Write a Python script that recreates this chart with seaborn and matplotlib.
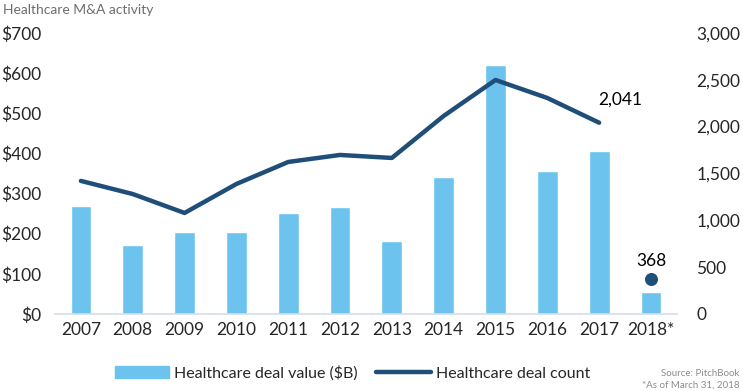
import numpy as np
import pandas as pd
import seaborn as sns
import matplotlib.pyplot as plt
from matplotlib.patches import Patch
from matplotlib.lines import Line2D

years = ["2007", "2008", "2009", "2010", "2011", "2012", "2013", "2014", "2015", "2016", "2017", "2018*"]
deal_value = [270, 172, 205, 205, 252, 267, 182, 340, 620, 357, 405, 55]
deal_count = [1420, 1280, 1078, 1387, 1622, 1697, 1665, 2113, 2497, 2305, 2041]
count_2018 = 368

bar_color = "#6CC4EE"
line_color = "#1F4E79"

sns.set_theme(style="white")
plt.rcParams['font.family'] = ['Lato', 'DejaVu Sans']

fig = plt.figure(figsize=(7.43, 3.91), dpi=100)
ax = fig.add_axes([0.074, 0.197, 0.837, 0.719])

df = pd.DataFrame({"year": years, "value": deal_value})
sns.barplot(data=df, x="year", y="value", color=bar_color, width=0.4,
            saturation=1, ax=ax)
ax.set_ylim(0, 700)
ax.set_xlim(-0.5, 11.5)
ax.set_yticks(range(0, 701, 100))
ax.set_yticklabels([f"${v}" for v in range(0, 701, 100)], fontsize=12.5)
ax.set_xlabel("")
ax.set_ylabel("")
ax.tick_params(axis="x", labelsize=12.5, pad=6, length=0)
ax.tick_params(axis="y", length=0, pad=10)
for s in ["top", "right", "left"]:
    ax.spines[s].set_visible(False)
ax.spines["bottom"].set_color("#d5dde5")
ax.spines["bottom"].set_linewidth(1.2)

ax2 = ax.twinx()
ldf = pd.DataFrame({"x": np.arange(len(deal_count)), "count": deal_count})
sns.lineplot(data=ldf, x="x", y="count", color=line_color, linewidth=3.2, ax=ax2)
ax2.scatter([11], [count_2018], color=line_color, s=70, zorder=5)
ax2.set_ylim(0, 3000)
ax2.set_xlim(-0.5, 11.5)
ax2.set_yticks(range(0, 3001, 500))
ax2.set_yticklabels([f"{v:,}" for v in range(0, 3001, 500)], fontsize=12.5)
ax2.set_ylabel("")
ax2.set_xlabel("")
ax2.tick_params(axis="y", length=0, pad=14)
for s in ax2.spines.values():
    s.set_visible(False)

ax2.annotate(f"{deal_count[-1]:,}", (10, deal_count[-1]), xytext=(-1, 13),
             textcoords="offset points", ha="left", fontsize=12.5, color="black")
ax2.annotate(f"{count_2018}", (11, count_2018), xytext=(0, 10),
             textcoords="offset points", ha="center", fontsize=12.5, color="black")

handles = [Patch(color=bar_color), Line2D([0], [0], color=line_color, linewidth=3.2)]
fig.legend(handles, ["Healthcare deal value ($B)", "Healthcare deal count"],
           loc="center", bbox_to_anchor=(0.474, 0.046), ncol=2, frameon=False,
           fontsize=11.5, handlelength=3.4, handletextpad=0.3, columnspacing=1.2)

fig.text(0.004, 0.975, "Healthcare M&A activity", fontsize=10, color="#6d6e71",
         va="center", ha="left")
fig.text(0.995, 0.045, "Source: PitchBook", fontsize=7, color="#8a8c8f",
         ha="right", va="center")
fig.text(0.995, 0.015, "*As of March 31, 2018", fontsize=7, color="#8a8c8f",
         ha="right", va="center")

fig.savefig("out.png", dpi=100)
